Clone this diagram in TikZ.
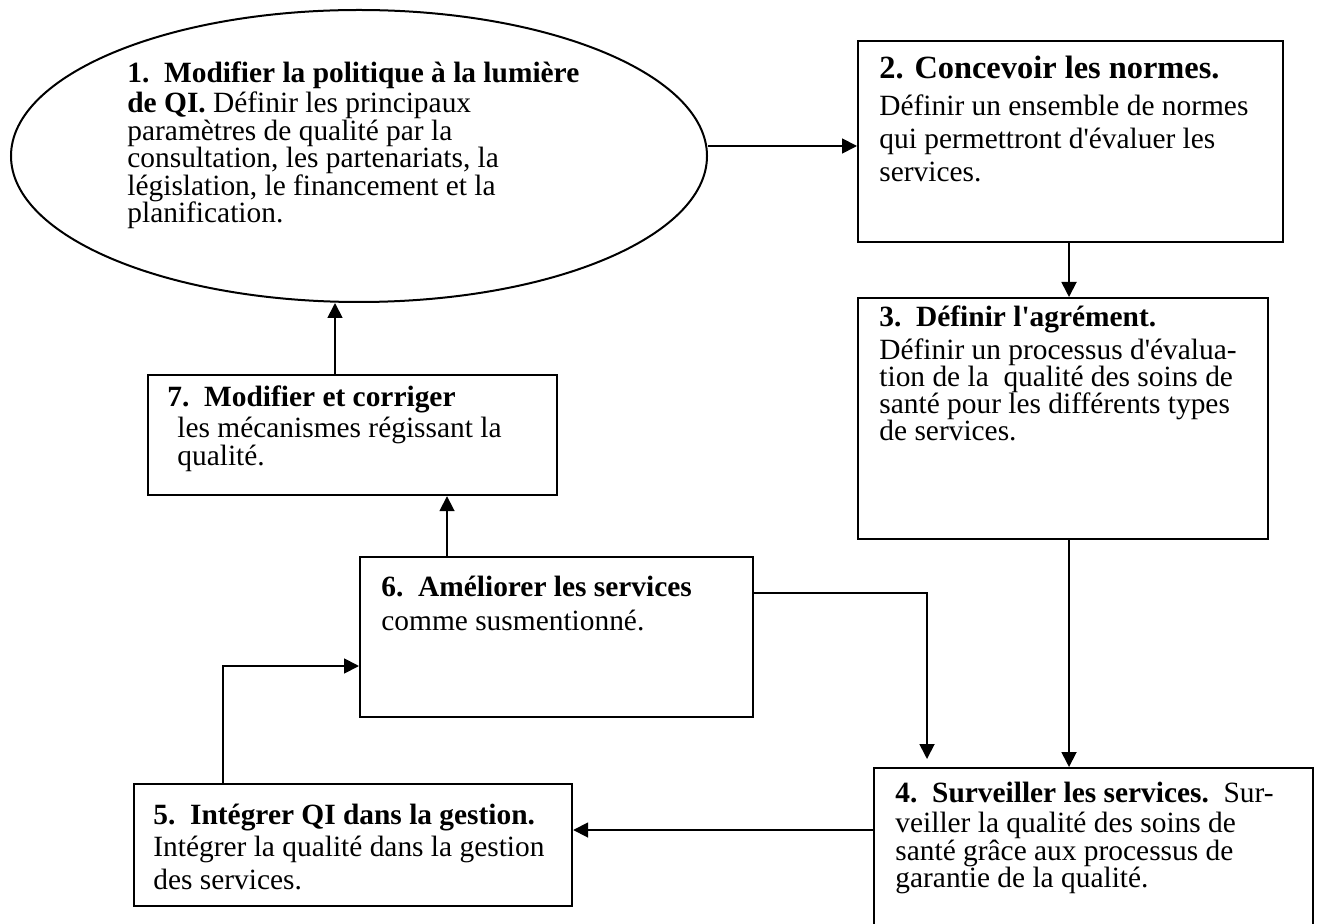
\documentclass[tikz,border=0pt]{standalone}
\usepackage{fontspec}
\newfontfamily\tnr{Liberation Serif}
\usetikzlibrary{arrows.meta,shapes.geometric}
\newcommand{\tlines}[2]{\vtop{\baselineskip=#1\relax\lineskiplimit=-50pt\lineskip=0pt\halign{##\hfil\cr#2\crcr}}}
\newcommand{\gap}[1]{\noalign{\vskip#1}}
\begin{document}
\begin{tikzpicture}[x=0.5pt,y=-0.5pt,
  box/.style={draw, line width=1.1pt, rectangle, inner sep=0, anchor=north west},
  txt/.style={anchor=base west, inner sep=0, font=\tnr\fontsize{14.7}{14}\selectfont},
  arr/.style={line width=0.9pt, -{Triangle[length=7.5pt,width=7.5pt]}}]
\useasboundingbox (0,0) rectangle (1320,924);
\clip (0,0) rectangle (1320,924);
% shapes
\node[draw, ellipse, line width=1pt, minimum width=348pt, minimum height=146pt, inner sep=0] (e1) at (359,156) {};
\node[box, minimum width=212.5pt, minimum height=100.5pt] (b2) at (857,40) {};
\node[box, minimum width=205pt, minimum height=120.5pt] (b3) at (857,297) {};
\node[box, minimum width=219.5pt, minimum height=90pt] (b4) at (873,767) {};
\node[box, minimum width=219pt, minimum height=61pt] (b5) at (133,783) {};
\node[box, minimum width=196.5pt, minimum height=80pt] (b6) at (359,556) {};
\node[box, minimum width=204.5pt, minimum height=60pt] (b7) at (147,374) {};
% texts
\node[txt] (t1) at (127,83) {\tlines{13.75pt}{\textbf{1.\ \ Modifier la politique à la lumière}\cr\gap{1.25pt}\textbf{de QI.} Définir les principaux\cr paramètres de qualité par la\cr consultation, les partenariats, la\cr législation, le financement et la\cr planification.}};
\node[txt] (t2) at (879,79) {\tlines{16.5pt}{{\fontsize{16.2}{16}\selectfont\textbf{2. Concevoir les normes.}}\cr\gap{2pt} Définir un ensemble de normes\cr qui permettront d'évaluer les\cr services.}};
\node[txt] (t3) at (879,327) {\tlines{13.5pt}{\textbf{3.\ \ Définir l'agrément.}\cr\gap{3pt} Définir un processus d'évalua-\cr tion de la\ \ qualité des soins de\cr santé pour les différents types\cr de services.}};
\node[txt] (t4) at (895,802) {\tlines{13.75pt}{\textbf{4.\ \ Surveiller les services.}\ \ Sur-\cr\gap{1.5pt} veiller la qualité des soins de\cr santé grâce aux processus de\cr garantie de la qualité.}};
\node[txt] (t5) at (153,824) {\tlines{16.25pt}{\textbf{5.\ \ Intégrer QI dans la gestion.}\cr Intégrer la qualité dans la gestion\cr des services.}};
\node[txt] (t6) at (381,596) {\tlines{17pt}{\textbf{6.\ \ Améliorer les services}\cr comme susmentionné.}};
\node[txt] (t7) at (167,407) {\tlines{13.5pt}{\textbf{7.\ \ Modifier et corriger}\cr\gap{2pt}\hspace{5pt}les mécanismes régissant la\cr\hspace{5pt}qualité.}};
% helper coordinates
\coordinate (c64) at (927,759);
\coordinate (x5) at (223,666);
\coordinate (x67) at (447,0);
\coordinate (x71) at (335,0);
\coordinate (x34) at (1069,0);
% connectors
\draw[arr] ([yshift=5pt]e1.east) -- ([yshift=5pt]e1.east -| b2.west);
\draw[arr] (x34 |- b2.south) -- (x34 |- b3.north);
\draw[arr] (x34 |- b3.south) -- (x34 |- b4.north);
\draw[arr] ([yshift=-18.5pt]b6.north east) -| (c64);
\draw[arr] ([yshift=-31.5pt]b4.north west) -- ([yshift=-31.5pt]b4.north west -| b5.east);
\draw[arr] (x5 |- b5.north) -- (x5) -- (x5 -| b6.west);
\draw[arr] (x67 |- b6.north) -- (x67 |- b7.south);
\draw[arr] (x71 |- b7.north) -- (x71 |- e1.south);
\end{tikzpicture}
\end{document}
